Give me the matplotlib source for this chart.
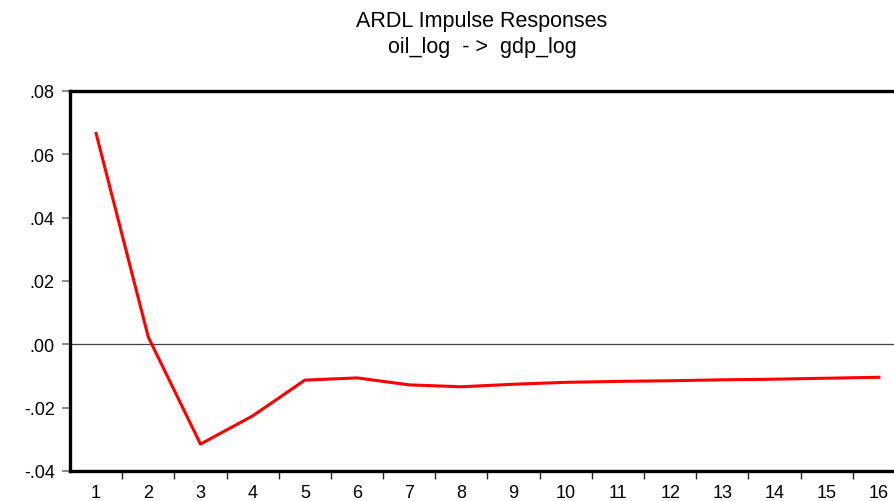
import numpy as np
import matplotlib.pyplot as plt
from matplotlib.ticker import FixedLocator, FuncFormatter

plt.rcParams['font.family'] = ['Liberation Sans', 'DejaVu Sans']

# impulse response of gdp_log to oil_log, periods 1..16
periods = list(range(1, 17))
response = [0.0666, 0.0023, -0.0315, -0.0226, -0.0113, -0.0106, -0.0128, -0.0134,
            -0.0126, -0.0120, -0.0117, -0.0115, -0.0112, -0.0110, -0.0107, -0.0104]

fig = plt.figure(figsize=(8.95, 5.02), dpi=100)
ax = fig.add_axes([70 / 895, 1 - 472 / 502, 835 / 895, 380 / 502])

ax.plot(periods, response, color='#ff0000', lw=2.2, zorder=3)
ax.axhline(0, color='#444444', lw=0.9, zorder=2)

ax.set_xlim(0.5, 16.5)
ax.set_ylim(-0.04, 0.08)

def yfmt(v, pos):
    s = '%.2f' % v
    return s.replace('0.', '.', 1)

ax.yaxis.set_major_locator(FixedLocator([-0.04, -0.02, 0.0, 0.02, 0.04, 0.06, 0.08]))
ax.yaxis.set_major_formatter(FuncFormatter(yfmt))
ax.tick_params(axis='y', direction='out', length=6, width=1.2, color='#777777',
               labelsize=13, pad=5)

# labels at periods, tick marks between them
ax.set_xticks(periods)
ax.set_xticks(np.arange(1.5, 16.5, 1), minor=True)
ax.tick_params(axis='x', which='major', length=0, labelsize=13, pad=9)
ax.tick_params(axis='x', which='minor', direction='out', length=6, width=1.0,
               color='#222222')

for side in ['left', 'top', 'bottom']:
    ax.spines[side].set_linewidth(2.4)
ax.spines['right'].set_visible(False)

fig.text(482 / 895, 1 - 22 / 502, 'ARDL Impulse Responses', ha='center', va='center',
         fontsize=15.5)
fig.text(482 / 895, 1 - 48 / 502, 'oil_log  - >  gdp_log', ha='center', va='center',
         fontsize=15.5)

fig.savefig('out.png', dpi=100)
